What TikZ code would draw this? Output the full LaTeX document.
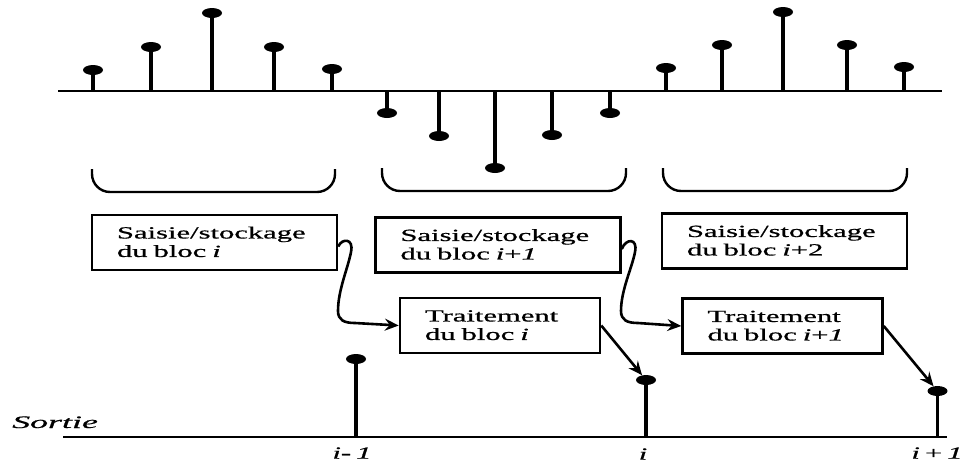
\documentclass[tikz,border=0pt]{standalone}
\usepackage{graphicx}
\usepackage{fontspec}
\setmainfont{Liberation Serif}[FakeBold=0.6]
\usetikzlibrary{arrows.meta,shapes.geometric}

% horizontally widened text
\newcommand{\wide}[2][1.8]{\scalebox{#1}[1]{#2}}
\newcommand{\blocktext}[2]{\raisebox{-1.5pt}[\height][\depth]{\wide{\fontsize{17}{18.5}\selectfont\begin{tabular}{@{}l@{}}#1\\#2\end{tabular}}}}
\newcommand{\axislabel}[1]{\wide{\fontsize{17}{19}\selectfont #1}}

\tikzset{
  sbox/.style={draw, rectangle, line width=2.5pt, inner xsep=25pt, inner ysep=0pt,
               text width=195pt, minimum height=55pt, align=left},
  tbox/.style={sbox, text width=150pt},
  stem/.style={line width=3.6pt},
  dot/.style={ellipse, fill, draw=none, inner sep=0pt, minimum width=20pt, minimum height=10pt},
  axis/.style={line width=2.4pt},
  cup/.style={line width=2.4pt, rounded corners=18pt},
  arr/.style={line width=2.6pt, -{Stealth[length=14pt,width=12pt,inset=5pt]}},
  lab/.style={inner sep=0pt}
}

\begin{document}
\begin{tikzpicture}[x=1pt, y=-1pt]
\useasboundingbox (0,0) rectangle (965,464);

% input signal
\draw[axis] (58,91) -- (942,91);
\foreach \x/\y [count=\k] in {93/70, 151/47, 212/13, 274/47, 332/69,
                              387/113, 439/136, 495/168, 552/135, 610/113,
                              666/68, 722/45, 783/12, 847/45, 904/67} {
  \draw[stem] (\x,91) -- (\x,\y);
  \node[dot] (in\k) at (\x,\y) {};
}

% block groupings
\draw[cup] (92,169) -- (92,192) -- (335,192) -- (335,169);
\draw[cup] (382,168) -- (382,191) -- (626,191) -- (626,168);
\draw[cup] (663,168) -- (663,191) -- (907,191) -- (907,168);

% acquisition and processing stages
\node[sbox] (s1) at (214.5,242.5) {\blocktext{Saisie/stockage}{du bloc \textit{i}}};
\node[sbox] (s2) at (498,245) {\blocktext{Saisie/stockage}{du bloc \textit{i}+\textit{1}}};
\node[sbox] (s3) at (784.5,241) {\blocktext{Saisie/stockage}{du bloc \textit{i}+2}};
\node[tbox] (t1) at (500,325.5) {\blocktext{Traitement}{du bloc \textit{i}}};
\node[tbox] (t2) at (782.5,326) {\blocktext{Traitement}{du bloc \textit{i}+\textit{1}}};

% output signal
\node[anchor=base west, lab] (sortie) at (12,428) {\wide[2.05]{\fontsize{17.5}{20}\selectfont\textit{Sortie}}};
\draw[axis] (63,437) -- (947,437);
\draw[stem] (356,437) -- (356,359);
\node[dot] (yA) at (356,359) {};
\draw[stem] (646,437) -- (646,380);
\node[dot] (yB) at (646,380) {};
\draw[stem] (937.5,437) -- (937.5,391);
\node[dot] (yC) at (937.5,391) {};

\node[lab] (lA) at (352,453) {\axislabel{\textit{i-\,1}}};
\node[lab] (lB) at (643,454) {\axislabel{\textit{i}}};
\node[lab] (lC) at (937,453) {\axislabel{\textit{i}\,+\,\textit{1}}};

% flow arrows
\draw[arr] ([yshift=-4pt]s1.east) .. controls (342,238) and (354,238) .. (351,252)
  .. controls (348,268) and (338,290) .. (338,311)
  .. controls (338,320) and (344,323) .. (355,323) -- (t1.west);
\draw[arr] ([yshift=-4pt]s2.east) .. controls (626,238) and (638,238) .. (635,252)
  .. controls (632,268) and (621,290) .. (621,311)
  .. controls (621,320) and (627,323) .. (638,323) -- (t2.west);
\draw[arr] (t1.east) -- (yB);
\draw[arr] (t2.east) -- (yC);
\end{tikzpicture}
\end{document}
